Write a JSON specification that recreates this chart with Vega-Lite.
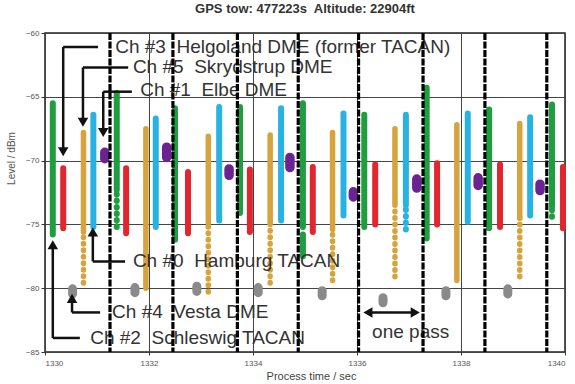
{
  "$schema": "https://vega.github.io/schema/vega-lite/v6.json",
  "width": 520,
  "height": 319,
  "autosize": "none",
  "padding": {"left": 45, "top": 33, "right": 10, "bottom": 32},
  "background": "white",
  "config": {
    "font": "Liberation Sans",
    "view": {"stroke": "#222", "strokeWidth": 1.5}
  },
  "title": {
    "text": "GPS tow: 477223s\u00a0 Altitude: 22904ft",
    "font": "Liberation Sans",
    "fontSize": 13,
    "fontWeight": "bold",
    "color": "#333",
    "offset": 13
  },
  "datasets": {
    "streaks": [
      {"ch": "2", "t": 1330.15, "lo": -75.8, "hi": -65.5, "d": "dense"},
      {"ch": "3", "t": 1330.35, "lo": -75.3, "hi": -70.6, "d": "dense"},
      {"ch": "4", "t": 1330.53, "lo": -80.45, "hi": -80.05, "d": "dense"},
      {"ch": "5", "t": 1330.74, "lo": -75.6, "hi": -67.8, "d": "dense"},
      {"ch": "5", "t": 1330.74, "lo": -79.6, "hi": -75.6, "d": "sparse"},
      {"ch": "0", "t": 1330.93, "lo": -75.2, "hi": -66.4, "d": "dense"},
      {"ch": "1", "t": 1331.15, "lo": -69.85, "hi": -69.35, "d": "dense"},
      {"ch": "2", "t": 1331.38, "lo": -72.3, "hi": -64.7, "d": "dense"},
      {"ch": "2", "t": 1331.38, "lo": -75.2, "hi": -72.3, "d": "sparse"},
      {"ch": "3", "t": 1331.56, "lo": -75.7, "hi": -70.6, "d": "dense"},
      {"ch": "4", "t": 1331.73, "lo": -80.35, "hi": -79.95, "d": "dense"},
      {"ch": "5", "t": 1331.94, "lo": -80.0, "hi": -67.5, "d": "dense"},
      {"ch": "0", "t": 1332.13, "lo": -75.2, "hi": -66.7, "d": "dense"},
      {"ch": "1", "t": 1332.34, "lo": -69.75, "hi": -68.95, "d": "dense"},
      {"ch": "2", "t": 1332.5, "lo": -76.2, "hi": -65.9, "d": "dense"},
      {"ch": "3", "t": 1332.75, "lo": -75.7, "hi": -70.9, "d": "dense"},
      {"ch": "4", "t": 1332.92, "lo": -80.25, "hi": -79.85, "d": "dense"},
      {"ch": "5", "t": 1333.14, "lo": -74.9, "hi": -68.1, "d": "dense"},
      {"ch": "5", "t": 1333.14, "lo": -80.3, "hi": -74.9, "d": "sparse"},
      {"ch": "0", "t": 1333.35, "lo": -74.7, "hi": -65.8, "d": "dense"},
      {"ch": "1", "t": 1333.54, "lo": -71.15, "hi": -70.65, "d": "dense"},
      {"ch": "2", "t": 1333.75, "lo": -74.1, "hi": -65.8, "d": "dense"},
      {"ch": "3", "t": 1333.94, "lo": -75.6, "hi": -70.7, "d": "dense"},
      {"ch": "4", "t": 1334.1, "lo": -80.35, "hi": -79.95, "d": "dense"},
      {"ch": "5", "t": 1334.33, "lo": -74.9, "hi": -68.0, "d": "dense"},
      {"ch": "5", "t": 1334.33, "lo": -79.6, "hi": -74.9, "d": "sparse"},
      {"ch": "0", "t": 1334.54, "lo": -74.7, "hi": -65.9, "d": "dense"},
      {"ch": "1", "t": 1334.71, "lo": -70.55, "hi": -69.75, "d": "dense"},
      {"ch": "2", "t": 1334.96, "lo": -75.2, "hi": -65.5, "d": "dense"},
      {"ch": "2", "t": 1334.96, "lo": -77.5, "hi": -75.8, "d": "dense"},
      {"ch": "3", "t": 1335.15, "lo": -75.6, "hi": -70.5, "d": "dense"},
      {"ch": "4", "t": 1335.33, "lo": -80.6, "hi": -80.2, "d": "dense"},
      {"ch": "5", "t": 1335.53, "lo": -75.4, "hi": -67.8, "d": "dense"},
      {"ch": "5", "t": 1335.53, "lo": -79.4, "hi": -75.4, "d": "sparse"},
      {"ch": "0", "t": 1335.74, "lo": -74.3, "hi": -66.3, "d": "dense"},
      {"ch": "1", "t": 1335.93, "lo": -72.85, "hi": -72.45, "d": "dense"},
      {"ch": "2", "t": 1336.14, "lo": -75.2, "hi": -66.4, "d": "dense"},
      {"ch": "3", "t": 1336.35, "lo": -75.0, "hi": -70.3, "d": "dense"},
      {"ch": "4", "t": 1336.5, "lo": -81.15, "hi": -80.75, "d": "dense"},
      {"ch": "5", "t": 1336.73, "lo": -73.3, "hi": -67.5, "d": "dense"},
      {"ch": "5", "t": 1336.73, "lo": -79.1, "hi": -73.3, "d": "sparse"},
      {"ch": "0", "t": 1336.94, "lo": -73.5, "hi": -66.4, "d": "dense"},
      {"ch": "0", "t": 1336.94, "lo": -75.4, "hi": -73.5, "d": "sparse"},
      {"ch": "1", "t": 1337.15, "lo": -72.15, "hi": -71.45, "d": "dense"},
      {"ch": "2", "t": 1337.34, "lo": -76.1, "hi": -64.3, "d": "dense"},
      {"ch": "3", "t": 1337.54, "lo": -75.0, "hi": -70.2, "d": "dense"},
      {"ch": "4", "t": 1337.71, "lo": -80.6, "hi": -80.2, "d": "dense"},
      {"ch": "5", "t": 1337.92, "lo": -79.4, "hi": -67.2, "d": "dense"},
      {"ch": "0", "t": 1338.13, "lo": -74.8, "hi": -66.3, "d": "dense"},
      {"ch": "1", "t": 1338.33, "lo": -71.95, "hi": -71.35, "d": "dense"},
      {"ch": "2", "t": 1338.54, "lo": -75.3, "hi": -66.0, "d": "dense"},
      {"ch": "3", "t": 1338.75, "lo": -75.2, "hi": -70.3, "d": "dense"},
      {"ch": "4", "t": 1338.9, "lo": -80.45, "hi": -80.05, "d": "dense"},
      {"ch": "5", "t": 1339.13, "lo": -74.5, "hi": -67.1, "d": "dense"},
      {"ch": "5", "t": 1339.13, "lo": -79.1, "hi": -74.5, "d": "sparse"},
      {"ch": "0", "t": 1339.33, "lo": -74.3, "hi": -66.6, "d": "dense"},
      {"ch": "1", "t": 1339.52, "lo": -72.35, "hi": -71.85, "d": "dense"},
      {"ch": "2", "t": 1339.75, "lo": -73.6, "hi": -65.6, "d": "dense"},
      {"ch": "2", "t": 1339.75, "lo": -74.4, "hi": -73.6, "d": "sparse"},
      {"ch": "3", "t": 1339.96, "lo": -75.3, "hi": -70.5, "d": "dense"}
    ],
    "passes": [
      {"t": 1331.25}, {"t": 1332.46}, {"t": 1333.7}, {"t": 1334.87},
      {"t": 1336.03}, {"t": 1337.27}, {"t": 1338.46}, {"t": 1339.65}
    ],
    "segments": [
      {"x1": 1330.35, "y1": -61.1, "x2": 1331.02, "y2": -61.1},
      {"x1": 1330.35, "y1": -61.1, "x2": 1330.35, "y2": -69.3},
      {"x1": 1330.73, "y1": -62.7, "x2": 1331.6, "y2": -62.7},
      {"x1": 1330.73, "y1": -62.7, "x2": 1330.73, "y2": -67.0},
      {"x1": 1331.12, "y1": -64.6, "x2": 1331.67, "y2": -64.6},
      {"x1": 1331.12, "y1": -64.6, "x2": 1331.12, "y2": -67.8},
      {"x1": 1330.92, "y1": -77.9, "x2": 1331.54, "y2": -77.9},
      {"x1": 1330.92, "y1": -77.9, "x2": 1330.92, "y2": -75.6},
      {"x1": 1330.52, "y1": -81.9, "x2": 1331.06, "y2": -81.9},
      {"x1": 1330.52, "y1": -81.9, "x2": 1330.52, "y2": -80.8},
      {"x1": 1330.15, "y1": -83.9, "x2": 1330.67, "y2": -83.9},
      {"x1": 1330.15, "y1": -83.9, "x2": 1330.15, "y2": -76.6},
      {"x1": 1336.21, "y1": -81.9, "x2": 1337.12, "y2": -81.9}
    ],
    "heads": [
      {"x": 1330.35, "y": -69.3, "dir": "down"},
      {"x": 1330.73, "y": -67.0, "dir": "down"},
      {"x": 1331.12, "y": -67.8, "dir": "down"},
      {"x": 1330.92, "y": -75.6, "dir": "up"},
      {"x": 1330.52, "y": -80.8, "dir": "up"},
      {"x": 1330.15, "y": -76.6, "dir": "up"},
      {"x": 1336.21, "y": -81.9, "dir": "left"},
      {"x": 1337.12, "y": -81.9, "dir": "right"}
    ],
    "labels": [
      {"x": 1331.35, "y": -61.1, "label": "Ch #3\u00a0 Helgoland DME (former TACAN)"},
      {"x": 1331.69, "y": -62.7, "label": "Ch #5\u00a0 Skrydstrup DME"},
      {"x": 1331.83, "y": -64.5, "label": "Ch #1\u00a0 Elbe DME"},
      {"x": 1331.69, "y": -77.9, "label": "Ch #0\u00a0 Hamburg TACAN"},
      {"x": 1331.29, "y": -81.9, "label": "Ch #4\u00a0 Vesta DME"},
      {"x": 1330.87, "y": -83.9, "label": "Ch #2\u00a0 Schleswig TACAN"},
      {"x": 1336.29, "y": -83.4, "label": "one pass"}
    ]
  },
  "layer": [
    {
      "data": {"name": "streaks"},
      "mark": {"type": "rule", "strokeCap": "round"},
      "encoding": {
        "x": {
          "field": "t", "type": "quantitative",
          "scale": {"domain": [1330, 1340], "nice": false, "zero": false},
          "axis": {
            "title": "Process time / sec",
            "values": [1330, 1332, 1334, 1336, 1338, 1340],
            "format": "d",
            "grid": true, "gridColor": "#444", "gridWidth": 1,
            "domain": false,
            "tickSize": 3, "tickColor": "#333",
            "labelFontSize": 8, "labelColor": "#555", "labelPadding": 4,
            "titleFontSize": 11, "titleFontWeight": "normal", "titleColor": "#444",
            "titleX": 266, "titleY": 27, "titleBaseline": "alphabetic"
          }
        },
        "y": {
          "field": "lo", "type": "quantitative",
          "scale": {"domain": [-85, -60], "nice": false, "zero": false},
          "axis": {
            "title": "Level / dBm",
            "values": [-85, -80, -75, -70, -65, -60],
            "grid": true, "gridColor": "#444", "gridWidth": 1,
            "domain": false,
            "tickSize": 4, "tickColor": "#333",
            "labelFontSize": 8, "labelColor": "#555", "labelPadding": 2,
            "titleFontSize": 10, "titleFontWeight": "normal", "titleColor": "#555",
            "titleX": -29, "titleY": 125
          }
        },
        "y2": {"field": "hi"},
        "color": {
          "field": "ch", "type": "nominal",
          "scale": {"domain": ["2", "3", "4", "5", "0", "1"],
                    "range": ["#1f9e3f", "#e3262e", "#8a8a8a", "#d6a33c", "#27b2e3", "#6b2393"]},
          "legend": null
        },
        "strokeWidth": {
          "field": "ch", "type": "ordinal",
          "scale": {"type": "ordinal", "domain": ["2", "3", "4", "5", "0", "1"],
                    "range": [6, 6, 9, 5.5, 6, 9.5]},
          "legend": null
        },
        "strokeDash": {
          "field": "d", "type": "nominal",
          "scale": {"domain": ["dense", "sparse"], "range": [[1, 0], [0.5, 6]]},
          "legend": null
        }
      }
    },
    {
      "data": {"name": "labels"},
      "mark": {"type": "text", "align": "left", "baseline": "middle", "fontSize": 19, "color": "#333", "font": "Liberation Sans"},
      "encoding": {
        "x": {"field": "x", "type": "quantitative"},
        "y": {"field": "y", "type": "quantitative"},
        "text": {"field": "label"}
      }
    },
    {
      "data": {"name": "segments"},
      "mark": {"type": "rule", "color": "#111", "strokeWidth": 2.5},
      "encoding": {
        "x": {"field": "x1", "type": "quantitative"},
        "x2": {"field": "x2"},
        "y": {"field": "y1", "type": "quantitative"},
        "y2": {"field": "y2"}
      }
    },
    {
      "data": {"name": "heads"},
      "mark": {"type": "point", "filled": true, "color": "#111", "opacity": 1, "size": 110},
      "encoding": {
        "x": {"field": "x", "type": "quantitative"},
        "y": {"field": "y", "type": "quantitative"},
        "shape": {
          "field": "dir", "type": "nominal",
          "scale": {"domain": ["down", "up", "left", "right"],
                    "range": ["triangle-down", "triangle-up", "triangle-left", "triangle-right"]},
          "legend": null
        }
      }
    },
    {
      "data": {"name": "passes"},
      "mark": {"type": "rule", "color": "#000", "strokeWidth": 3.2, "strokeDash": [7, 1.5]},
      "encoding": {
        "x": {"field": "t", "type": "quantitative"}
      }
    }
  ]
}
